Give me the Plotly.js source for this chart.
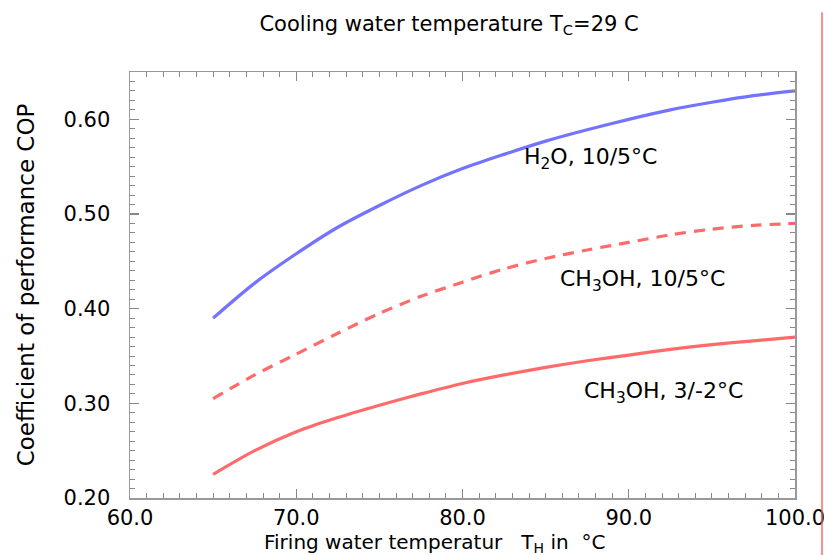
<!DOCTYPE html>
<html>
<head>
<meta charset="utf-8">
<script src="https://cdn.plot.ly/plotly-3.0.1.min.js"></script>
<style>html,body{margin:0;padding:0;background:#fff;}#chart{width:824px;height:555px;}</style>
</head>
<body>
<div id="chart"></div>
<script>
// Firing water temperature T_H (°C)
const temps = [65, 67.5, 70, 72.5, 75, 77.5, 80, 82.5, 85, 87.5, 90, 92.5, 95, 97.5, 100];
// COP, H2O 10/5°C
const copH2O = [0.390, 0.427, 0.458, 0.486, 0.509, 0.530, 0.548, 0.563, 0.577, 0.589, 0.600, 0.610, 0.618, 0.625, 0.630];
// COP, CH3OH 10/5°C
const copMeOH105 = [0.305, 0.330, 0.352, 0.374, 0.395, 0.413, 0.428, 0.442, 0.453, 0.462, 0.470, 0.478, 0.484, 0.488, 0.490];
// COP, CH3OH 3/-2°C
const copMeOH32 = [0.225, 0.250, 0.270, 0.285, 0.298, 0.310, 0.321, 0.330, 0.338, 0.345, 0.351, 0.357, 0.362, 0.366, 0.370];

const labels = ["H<sub>2</sub>O, 10/5°C", "CH<sub>3</sub>OH, 10/5°C", "CH<sub>3</sub>OH, 3/-2°C"];
const labelPos = [[87.7, 0.559], [90.8, 0.430], [92.1, 0.311]];
const xTickVals = [60, 70, 80, 90, 100];
const xTickText = ["60.0", "70.0", "80.0", "90.0", "100.0"];
const yTickVals = [0.2, 0.3, 0.4, 0.5, 0.6];
const yTickText = ["0.20", "0.30", "0.40", "0.50", "0.60"];
const xTitle = "Firing water temperatur\u00a0\u00a0\u00a0T<sub>H</sub> in\u00a0\u00a0°C";
const yTitle = "Coefficient of performance COP";
const mainTitle = "Cooling water temperature T<sub>C</sub>=29 C";

const FONT = "DejaVu Sans, Arial, sans-serif";
const blue = "rgba(80,80,255,0.8)";
const red = "rgba(255,70,70,0.8)";

const traces = [
  {x: temps, y: copH2O, mode: "lines", line: {color: blue, width: 3.2, shape: "spline", smoothing: 0.8}, name: labels[0]},
  {x: temps, y: copMeOH105, mode: "lines", line: {color: red, width: 3.2, dash: "11px,8px", shape: "spline", smoothing: 0.8}, name: labels[1]},
  {x: temps, y: copMeOH32, mode: "lines", line: {color: red, width: 3.2, shape: "spline", smoothing: 0.8}, name: labels[2]}
];

const axisCommon = {
  showline: true, linecolor: "#999", linewidth: 1.5, mirror: "allticks",
  ticks: "inside", ticklen: 9, tickwidth: 1.2, tickcolor: "#888",
  showgrid: false, zeroline: false, ticklabeloverflow: "allow",
  tickfont: {family: FONT, size: 21, color: "#000"}
};

const layout = {
  width: 824, height: 555,
  margin: {l: 130, r: 29, t: 72, b: 57},
  paper_bgcolor: "#fff", plot_bgcolor: "#fff",
  showlegend: false,
  title: {
    text: mainTitle,
    font: {family: FONT, size: 21, color: "#000"},
    xref: "container", x: 0.545, xanchor: "center",
    yref: "container", y: 0.958, yanchor: "middle"
  },
  xaxis: Object.assign({}, axisCommon, {
    range: [60, 100], tickvals: xTickVals, ticktext: xTickText,
    minor: {dtick: 1, ticks: "inside", ticklen: 5, tickcolor: "#888", tickwidth: 1},
    ticklabelstandoff: 0
  }),
  yaxis: Object.assign({}, axisCommon, {
    range: [0.2, 0.65], tickvals: yTickVals, ticktext: yTickText,
    minor: {dtick: 0.01, ticks: "inside", ticklen: 5, tickcolor: "#888", tickwidth: 1},
    ticklabelstandoff: 14,
    title: {text: yTitle, font: {family: FONT, size: 23, color: "#000"}, standoff: 22}
  }),
  annotations: labels.map((t, i) => ({
    x: labelPos[i][0], y: labelPos[i][1], xref: "x", yref: "y",
    text: t, showarrow: false, font: {family: FONT, size: 22, color: "#000"},
    xanchor: "center", yanchor: "middle"
  })).concat([{
    x: 0.4586, y: -0.106, xref: "paper", yref: "paper",
    text: xTitle, showarrow: false, font: {family: FONT, size: 20, color: "#000"},
    xanchor: "center", yanchor: "middle"
  }]),
  shapes: [
    {type: "line", xref: "paper", yref: "paper", x0: 1.0406, x1: 1.0406, y0: -0.14, y1: 1.14,
     line: {color: "rgba(255,90,90,0.9)", width: 1.5}}
  ]
};

Plotly.newPlot("chart", traces, layout, {staticPlot: true, displayModeBar: false});
</script>
</body>
</html>
